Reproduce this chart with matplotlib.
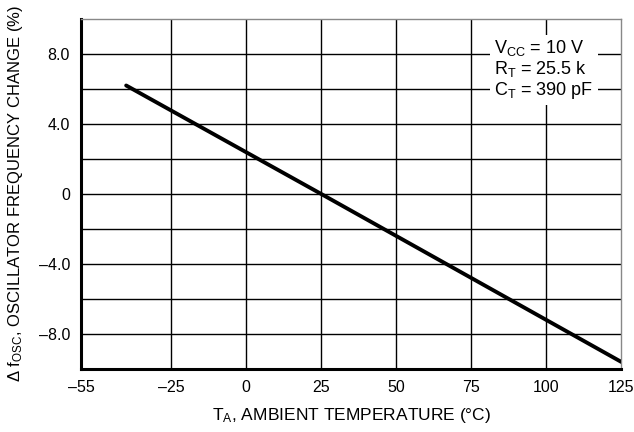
import matplotlib
matplotlib.use("Agg")
import matplotlib.pyplot as plt

plt.rcParams['font.family'] = ['Liberation Sans', 'DejaVu Sans']
plt.rcParams['mathtext.fontset'] = 'custom'
plt.rcParams['mathtext.rm'] = 'Liberation Sans'
plt.rcParams['mathtext.it'] = 'Liberation Sans'

# data
temp = [-40, 25, 125]
freq_change = [6.2, 0.0, -9.6]

x_ticks = [-55, -25, 0, 25, 50, 75, 100, 125]
x_labels = ['\u201355', '\u201325', '0', '25', '50', '75', '100', '125']
y_ticks = [-8, -4, 0, 4, 8]
y_labels = ['\u20138.0', '\u20134.0', '0', '4.0', '8.0']
y_grid = [-10, -8, -6, -4, -2, 0, 2, 4, 6, 8, 10]

fig = plt.figure(figsize=(6.34, 4.32), dpi=100)
ax = fig.add_axes([0.128, 0.146, 0.852, 0.81])

ax.set_xlim(-55, 125)
ax.set_ylim(-10, 10)

for x in x_ticks[1:-1]:
    ax.axvline(x, color='black', lw=1.0, zorder=1)
for y in y_grid[1:-1]:
    ax.axhline(y, color='black', lw=1.0, zorder=1)

ax.plot(temp, freq_change, color='black', lw=2.8, solid_capstyle='round', zorder=3)

ax.set_xticks(x_ticks)
ax.set_xticklabels(x_labels)
ax.set_yticks(y_ticks)
ax.set_yticklabels(y_labels)
ax.tick_params(length=0, labelsize=11.5, pad=8)

for side in ['left', 'bottom']:
    ax.spines[side].set_linewidth(2.2)
for side in ['top', 'right']:
    ax.spines[side].set_linewidth(1.0)
    ax.spines[side].set_color('#888888')

ax.set_xlabel(r'T$_{\rm A}$, AMBIENT TEMPERATURE (°C)', fontsize=12.5, labelpad=8)
ax.set_ylabel(r'$\Delta$ f$_{\rm OSC}$, OSCILLATOR FREQUENCY CHANGE (%)', fontsize=12, labelpad=10)

ax.text(0.765, 0.945,
        'V$_{\\rm CC}$ = 10 V\nR$_{\\rm T}$ = 25.5 k\nC$_{\\rm T}$ = 390 pF',
        transform=ax.transAxes, fontsize=13, va='top', ha='left', linespacing=1.05,
        bbox=dict(facecolor='white', edgecolor='none', pad=3), zorder=4)

fig.savefig('out.png', dpi=100)
